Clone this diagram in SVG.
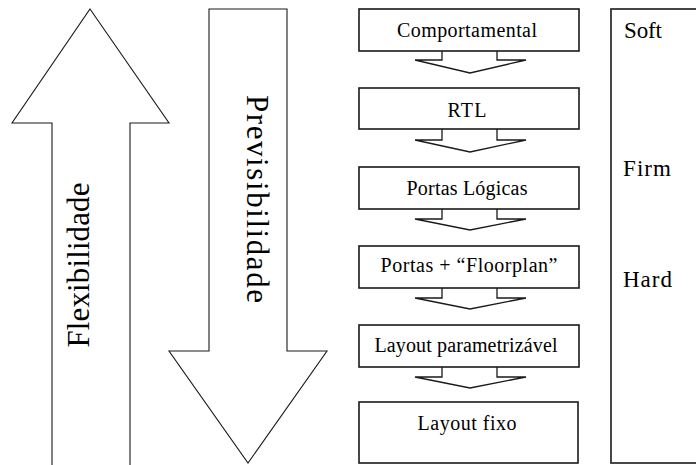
<svg xmlns="http://www.w3.org/2000/svg" width="696" height="465" viewBox="0 0 696 465">
  <style>
    .big { fill: #ffffff; stroke: #1a1a1a; stroke-width: 1.1; stroke-linejoin: miter; }
    .box { fill: #ffffff; stroke: #1a1a1a; stroke-width: 1.6; }
    .step { fill: #ffffff; stroke: #1a1a1a; stroke-width: 1.3; stroke-linejoin: miter; }
    .panel { fill: #ffffff; stroke: #333333; stroke-width: 1.8; }
    .lbl { font-family: "Liberation Serif", "Times New Roman", serif; fill: #000000; }
    .node { font-size: 20px; text-anchor: middle; }
    .axis { font-size: 31px; text-anchor: middle; }
    .level { font-size: 23px; }
  </style>

  <rect width="696" height="465" fill="#ffffff"/>

  <!-- Flexibility: upward arrow -->
  <g id="arrow-flexibilidade">
    <polygon class="big" points="90,9 169,123 130,123 130,470 52,470 52,123 12,123"/>
    <text class="lbl axis" transform="translate(89,265) rotate(-90)" textLength="165" lengthAdjust="spacing">Flexibilidade</text>
  </g>

  <!-- Predictability: downward arrow -->
  <g id="arrow-previsibilidade">
    <polygon class="big" points="209,9 287,9 287,351 327,351 248,463 169,351 209,351"/>
    <text class="lbl axis" transform="translate(247,199) rotate(90)" textLength="208" lengthAdjust="spacing">Previsibilidade</text>
  </g>

  <!-- Step arrows between abstraction levels (shafts hidden under the boxes) -->
  <g id="connectors">
    <polygon class="step" points="442,40 442,60 415,60 470,73 526,60 497,60 497,40"/>
    <polygon class="step" points="442,118 442,140 415,140 470,152 526,140 497,140 497,118"/>
    <polygon class="step" points="442,198 442,219 415,219 470,230 526,219 497,219 497,198"/>
    <polygon class="step" points="442,277 442,298 415,298 470,309 526,298 497,298 497,277"/>
    <polygon class="step" points="442,356 442,377 415,377 470,388 526,377 497,377 497,356"/>
  </g>

  <g id="comportamental">
    <rect class="box" x="359" y="9" width="220" height="42"/>
    <text class="lbl node" x="467" y="37" textLength="140" lengthAdjust="spacing">Comportamental</text>
  </g>
  <g id="rtl">
    <rect class="box" x="359" y="88" width="220" height="41"/>
    <text class="lbl node" x="467" y="117" textLength="39" lengthAdjust="spacing">RTL</text>
  </g>
  <g id="portas-logicas">
    <rect class="box" x="359" y="167" width="220" height="42"/>
    <text class="lbl node" x="467" y="195" textLength="121" lengthAdjust="spacing">Portas Lógicas</text>
  </g>
  <g id="portas-floorplan">
    <rect class="box" x="359" y="246" width="220" height="42"/>
    <text class="lbl node" x="469" y="272" textLength="177" lengthAdjust="spacing">Portas + “Floorplan”</text>
  </g>
  <g id="layout-parametrizavel">
    <rect class="box" x="359" y="325" width="220" height="42"/>
    <text class="lbl node" x="466" y="352" textLength="183" lengthAdjust="spacing">Layout parametrizável</text>
  </g>
  <g id="layout-fixo">
    <rect class="box" x="359" y="402" width="219" height="61"/>
    <text class="lbl node" x="467" y="430" textLength="99" lengthAdjust="spacing">Layout fixo</text>
  </g>

  <!-- IP core hardness levels -->
  <g id="ip-levels">
    <rect class="panel" x="611" y="9" width="100" height="454"/>
    <text class="lbl level" x="624" y="38" textLength="38" lengthAdjust="spacing">Soft</text>
    <text class="lbl level" x="623" y="176" textLength="48" lengthAdjust="spacing">Firm</text>
    <text class="lbl level" x="623" y="287" textLength="49" lengthAdjust="spacing">Hard</text>
  </g>
</svg>
